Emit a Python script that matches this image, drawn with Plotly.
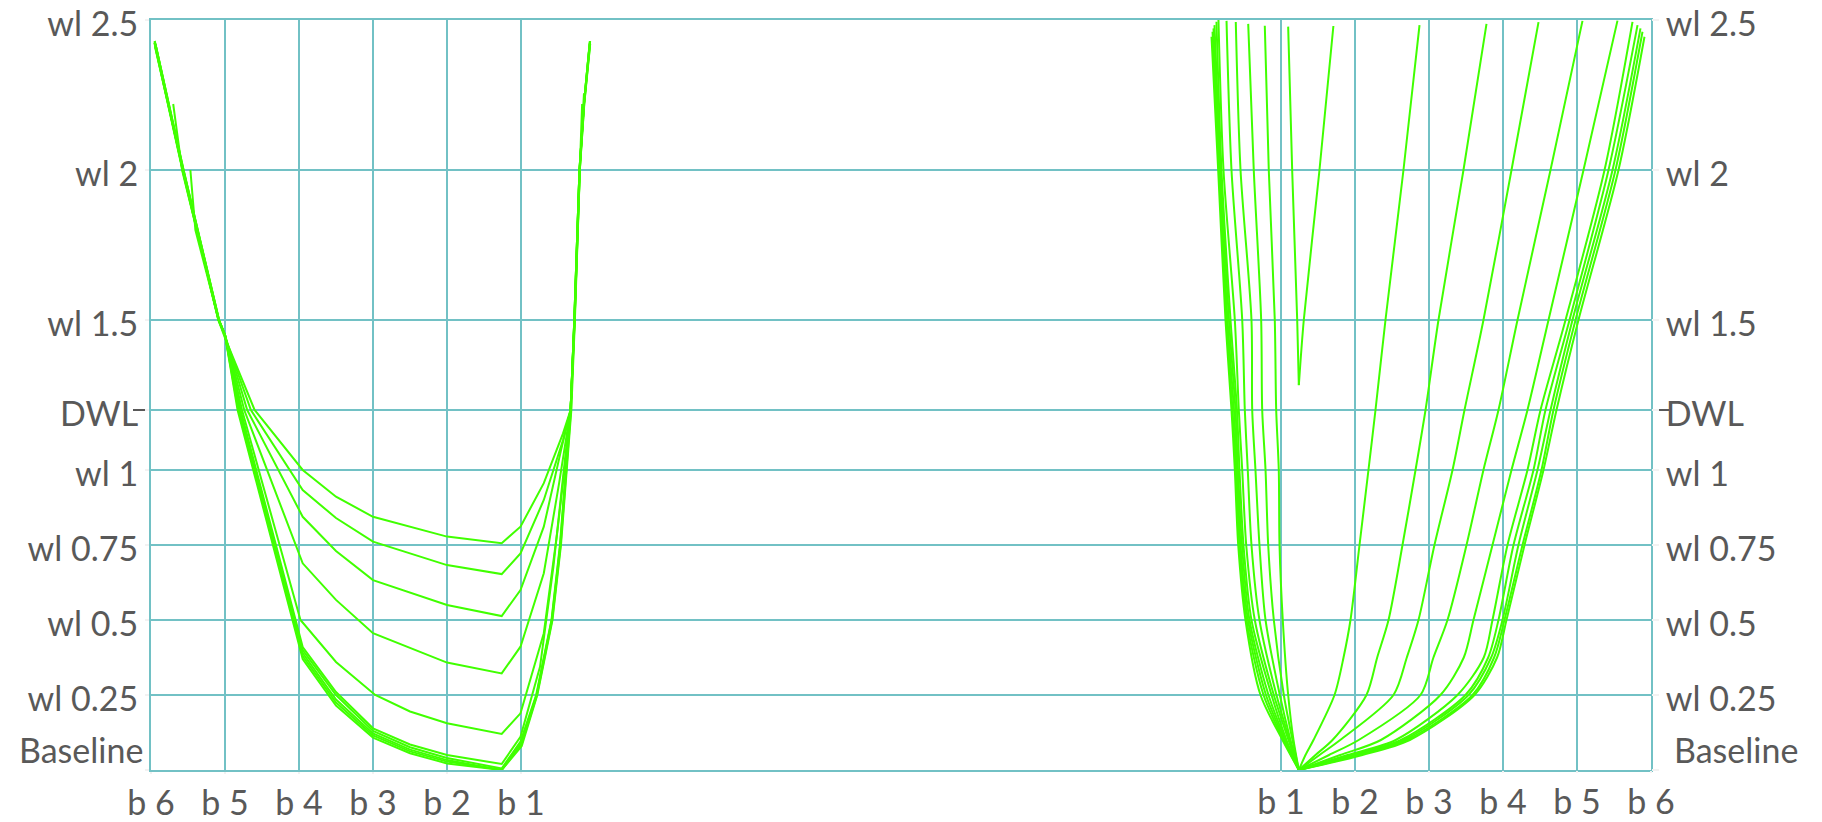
import plotly.graph_objects as go

# ---------------- axis ticks ----------------
WL_TICKS = [0, 0.25, 0.5, 0.75, 1.0, 1.2, 1.5, 2.0, 2.5]
WL_LABELS = ["Baseline", "wl 0.25", "wl 0.5", "wl 0.75", "wl 1", "DWL", "wl 1.5", "wl 2", "wl 2.5"]
B_TICKS = [6, 5, 4, 3, 2, 1]
B_LABELS = ["b 6", "b 5", "b 4", "b 3", "b 2", "b 1"]
DWL = 1.2

# ---------------- aft sections (left body plan), breadth b / waterline wl ----------------
AFT_B = [
    [5.95, 5.57, 5.09, 5.0, 4.60, 3.95, 3.5, 3.0, 2.0, 1.261, 1.007, 0.692, 0.432, 0.33, 0.28, 0.21, 0.15, 0.07],
    [5.94, 5.56, 5.08, 5.0, 4.65, 3.95, 3.5, 3.0, 2.0, 1.261, 1.007, 0.692, 0.432, 0.33, 0.275, 0.205, 0.145, 0.065],
    [5.955, 5.575, 5.09, 5.0, 4.70, 3.95, 3.5, 3.0, 2.0, 1.261, 1.007, 0.692, 0.458, 0.33, 0.28, 0.21, 0.15, 0.07],
    [5.945, 5.565, 5.085, 5.0, 4.74, 3.95, 3.5, 3.0, 2.0, 1.261, 1.007, 0.692, 0.485, 0.33, 0.278, 0.208, 0.148, 0.068],
    [5.95, 5.57, 5.085, 5.0, 4.77, 3.98, 3.5, 2.97, 2.5, 2.0, 1.261, 1.007, 0.692, 0.512, 0.381, 0.33, 0.28, 0.21, 0.15, 0.072],
    [5.94, 5.56, 5.08, 5.0, 4.79, 3.95, 3.5, 3.0, 2.5, 2.0, 1.261, 1.007, 0.743, 0.562, 0.40, 0.33, 0.276, 0.206, 0.146, 0.066],
    [5.952, 5.572, 5.088, 5.0, 4.80, 3.95, 3.5, 3.0, 2.5, 2.0, 1.261, 1.007, 0.795, 0.588, 0.474, 0.392, 0.33, 0.279, 0.21, 0.15, 0.07],
    [5.70, 5.58, 5.085, 5.0, 4.81, 3.95, 3.5, 3.0, 2.5, 2.0, 1.261, 1.0, 0.79, 0.585, 0.47, 0.39, 0.33, 0.277, 0.207, 0.174],
    [5.468, 5.40, 5.085, 5.0, 4.82, 3.95, 3.5, 3.0, 2.5, 2.0, 1.261, 0.995, 0.785, 0.58, 0.465, 0.385, 0.325, 0.275, 0.21],
    [5.945, 5.565, 5.082, 5.0, 4.83, 3.95, 3.5, 3.0, 2.5, 2.0, 1.261, 0.99, 0.78, 0.575, 0.46, 0.38, 0.32, 0.272, 0.205, 0.149],
]
AFT_WL = [
    [2.43, 2.0, 1.5, 1.44, 1.2, 1.0, 0.911, 0.844, 0.778, 0.756, 0.811, 0.956, 1.122, 1.2, 1.5, 2.0, 2.22, 2.43],
    [2.42, 2.0, 1.5, 1.445, 1.2, 0.933, 0.84, 0.761, 0.683, 0.653, 0.722, 0.9, 1.1, 1.2, 1.5, 2.0, 2.22, 2.42],
    [2.425, 2.0, 1.5, 1.45, 1.2, 0.844, 0.73, 0.633, 0.55, 0.513, 0.6, 0.811, 1.067, 1.2, 1.5, 2.0, 2.22, 2.425],
    [2.415, 2.0, 1.5, 1.45, 1.2, 0.689, 0.567, 0.456, 0.358, 0.322, 0.411, 0.656, 0.956, 1.2, 1.5, 2.0, 2.22, 2.415],
    [2.43, 2.0, 1.5, 1.45, 1.2, 0.5, 0.36, 0.25, 0.195, 0.156, 0.12, 0.189, 0.456, 0.789, 1.067, 1.2, 1.5, 2.0, 2.22, 2.42],
    [2.42, 2.0, 1.5, 1.45, 1.2, 0.41, 0.26, 0.139, 0.085, 0.05, 0.02, 0.111, 0.344, 0.678, 1.05, 1.2, 1.5, 2.0, 2.22, 2.43],
    [2.425, 2.0, 1.5, 1.45, 1.2, 0.40, 0.25, 0.13, 0.076, 0.04, 0.005, 0.095, 0.25, 0.5, 0.75, 1.0, 1.2, 1.5, 2.0, 2.22, 2.425],
    [2.22, 2.0, 1.5, 1.45, 1.2, 0.39, 0.235, 0.122, 0.068, 0.033, 0.0, 0.09, 0.25, 0.5, 0.75, 1.0, 1.2, 1.5, 2.0, 2.22],
    [2.0, 1.8, 1.5, 1.45, 1.2, 0.38, 0.225, 0.115, 0.062, 0.028, 0.0, 0.085, 0.25, 0.5, 0.75, 1.0, 1.2, 1.5, 2.0],
    [2.41, 2.0, 1.5, 1.45, 1.2, 0.37, 0.215, 0.108, 0.056, 0.022, 0.0, 0.08, 0.25, 0.5, 0.75, 1.0, 1.2, 1.5, 2.0, 2.256],
]

# ---------------- fore sections (right body plan) ----------------
FORE_B = [
    [0.781, 0.835, 0.916, 0.935, 0.970, 0.980, 1.024, 1.097, 1.169, 1.241, 1.331, 1.439, 1.723, 1.845, 1.939, 2.061, 2.182, 2.277, 2.412, 2.655, 2.872],
    [0.557, 0.632, 0.732, 0.746, 0.791, 0.827, 0.903, 1.038, 1.155, 1.241, 1.466, 1.696, 2.155, 2.30, 2.453, 2.642, 2.818, 2.953, 3.128, 3.466, 3.777],
    [0.389, 0.453, 0.601, 0.611, 0.655, 0.709, 0.791, 0.984, 1.128, 1.241, 1.52, 1.80, 2.520, 2.70, 2.858, 3.074, 3.318, 3.480, 3.736, 4.115, 4.480],
    [0.264, 0.331, 0.476, 0.511, 0.551, 0.601, 0.709, 0.939, 1.115, 1.241, 1.65, 2.05, 2.885, 3.06, 3.250, 3.507, 3.736, 3.939, 4.196, 4.642, 5.074],
    [0.155, 0.223, 0.376, 0.430, 0.476, 0.530, 0.646, 0.903, 1.101, 1.241, 1.80, 2.35, 3.155, 3.47, 3.601, 3.858, 4.115, 4.331, 4.615, 5.088, 5.547],
    [0.128, 0.196, 0.318, 0.405, 0.439, 0.493, 0.601, 0.872, 1.074, 1.241, 1.90, 2.55, 3.385, 3.74, 3.858, 4.061, 4.331, 4.507, 4.845, 5.372, 5.750],
    [0.101, 0.182, 0.297, 0.385, 0.419, 0.473, 0.574, 0.831, 1.061, 1.241, 1.95, 2.62, 3.493, 3.80, 3.939, 4.142, 4.412, 4.574, 4.899, 5.426, 5.818],
    [0.088, 0.169, 0.277, 0.365, 0.405, 0.453, 0.554, 0.797, 1.047, 1.241, 2.00, 2.66, 3.534, 3.84, 3.993, 4.209, 4.466, 4.642, 4.939, 5.480, 5.858],
    [0.075, 0.162, 0.264, 0.345, 0.392, 0.439, 0.534, 0.764, 1.034, 1.241, 2.05, 2.70, 3.588, 3.88, 4.020, 4.264, 4.520, 4.682, 4.980, 5.520, 5.885],
    [0.061, 0.151, 0.250, 0.331, 0.376, 0.422, 0.520, 0.723, 1.020, 1.241, 2.10, 2.74, 3.615, 3.92, 4.047, 4.291, 4.547, 4.723, 5.020, 5.561, 5.912],
    [1.097, 1.151, 1.219, 1.241, 1.308, 1.520, 1.708],
]
FORE_WL = [
    [2.481, 2.0, 1.5, 1.2, 1.0, 0.75, 0.5, 0.25, 0.1, 0.0, 0.05, 0.1, 0.25, 0.375, 0.5, 0.75, 1.0, 1.2, 1.5, 2.0, 2.483],
    [2.487, 2.0, 1.5, 1.2, 1.0, 0.75, 0.5, 0.25, 0.1, 0.0, 0.05, 0.1, 0.25, 0.375, 0.5, 0.75, 1.0, 1.2, 1.5, 2.0, 2.487],
    [2.493, 2.0, 1.5, 1.2, 1.0, 0.75, 0.5, 0.25, 0.1, 0.0, 0.05, 0.1, 0.25, 0.375, 0.5, 0.75, 1.0, 1.2, 1.5, 2.0, 2.493],
    [2.497, 2.0, 1.5, 1.2, 1.0, 0.75, 0.5, 0.25, 0.1, 0.0, 0.05, 0.1, 0.25, 0.375, 0.5, 0.75, 1.0, 1.2, 1.5, 2.0, 2.497],
    [2.5, 2.0, 1.5, 1.2, 1.0, 0.75, 0.5, 0.25, 0.1, 0.0, 0.05, 0.1, 0.25, 0.375, 0.5, 0.75, 1.0, 1.2, 1.5, 2.0, 2.498],
    [2.494, 2.0, 1.5, 1.2, 1.0, 0.75, 0.5, 0.25, 0.1, 0.0, 0.05, 0.1, 0.25, 0.375, 0.5, 0.75, 1.0, 1.2, 1.5, 2.0, 2.494],
    [2.483, 2.0, 1.5, 1.2, 1.0, 0.75, 0.5, 0.25, 0.1, 0.0, 0.05, 0.1, 0.25, 0.375, 0.5, 0.75, 1.0, 1.2, 1.5, 2.0, 2.483],
    [2.472, 2.0, 1.5, 1.2, 1.0, 0.75, 0.5, 0.25, 0.1, 0.0, 0.05, 0.1, 0.25, 0.375, 0.5, 0.75, 1.0, 1.2, 1.5, 2.0, 2.472],
    [2.461, 2.0, 1.5, 1.2, 1.0, 0.75, 0.5, 0.25, 0.1, 0.0, 0.05, 0.1, 0.25, 0.375, 0.5, 0.75, 1.0, 1.2, 1.5, 2.0, 2.461],
    [2.444, 2.0, 1.5, 1.2, 1.0, 0.75, 0.5, 0.25, 0.1, 0.0, 0.05, 0.1, 0.25, 0.375, 0.5, 0.75, 1.0, 1.2, 1.5, 2.0, 2.444],
    [2.478, 2.0, 1.5, 1.283, 1.5, 2.0, 2.48],
]

# ---------------- styling ----------------
GREEN = "#40FF00"
GRID = "#72C1C5"
TEXT = "#595959"
FONT = dict(family="Lato, Open Sans, sans-serif", size=34, color=TEXT)

fig = go.Figure()
for bs, ws in zip(AFT_B, AFT_WL):
    fig.add_trace(go.Scatter(x=bs, y=ws, mode="lines", xaxis="x", yaxis="y",
                             line=dict(color=GREEN, width=2), hoverinfo="skip", showlegend=False))

for bs, ws in zip(FORE_B, FORE_WL):
    k = ws.index(min(ws))  # keel point: split into two smooth arms meeting at a sharp vertex
    for xs, ys in ((bs[:k + 1], ws[:k + 1]), (bs[k:], ws[k:])):
        fig.add_trace(go.Scatter(x=xs, y=ys, mode="lines", xaxis="x2", yaxis="y2",
                                 line=dict(color=GREEN, width=2, shape="spline", smoothing=0.8),
                                 hoverinfo="skip", showlegend=False))

SPAN = 20.27  # plot width expressed in breadth units

# The lowest label ("Baseline") sits a little above its gridline, as in the original,
# so it is written as an annotation; the other waterline labels are regular tick labels.
axis_labels = [""] + WL_LABELS[1:]

common_x = dict(tickvals=B_TICKS, ticktext=B_LABELS, showgrid=True, gridcolor=GRID, gridwidth=2,
                zeroline=False, ticks="outside", ticklen=2, tickcolor="#F2F2F2", tickwidth=2,
                tickfont=FONT, fixedrange=True, automargin=False, ticklabeloverflow="allow")
common_y = dict(range=[0, 2.5], tickvals=WL_TICKS, ticktext=axis_labels, zeroline=False,
                ticks="outside", tickcolor="#F2F2F2", tickwidth=2, tickfont=FONT,
                fixedrange=True, automargin=False, ticklabeloverflow="allow", ticklabelshift=4)

annotations = [
    dict(text=WL_LABELS[0], xref="paper", yref="y", x=0, y=WL_TICKS[0], xanchor="right",
         yanchor="bottom", xshift=-6, yshift=-2, showarrow=False, font=FONT),
    dict(text=WL_LABELS[0], xref="paper", yref="y", x=1, y=WL_TICKS[0], xanchor="left",
         yanchor="bottom", xshift=21, yshift=-2, showarrow=False, font=FONT),
]

fig.update_layout(
    width=1822, height=822, autosize=False,
    margin=dict(l=151, r=171, t=20, b=52, pad=0),
    paper_bgcolor="white", plot_bgcolor="white",
    xaxis=dict(range=[6, 6 - SPAN], showline=True, mirror=True, linecolor=GRID, linewidth=2, **common_x),
    xaxis2=dict(range=[6 - SPAN, 6], overlaying="x", side="bottom", showline=False, **common_x),
    yaxis=dict(showgrid=True, gridcolor=GRID, gridwidth=2, showline=True, mirror=True,
               linecolor=GRID, linewidth=2, side="left", ticklen=4, **common_y),
    yaxis2=dict(showgrid=False, overlaying="y", side="right", showline=False, ticklen=7, **common_y),
    shapes=[dict(type="line", xref="paper", yref="y", x0=-0.012, x1=1.012, y0=DWL, y1=DWL,
                 line=dict(color=TEXT, width=2), layer="between")],
    annotations=annotations,
)

fig.write_html("out.html")
